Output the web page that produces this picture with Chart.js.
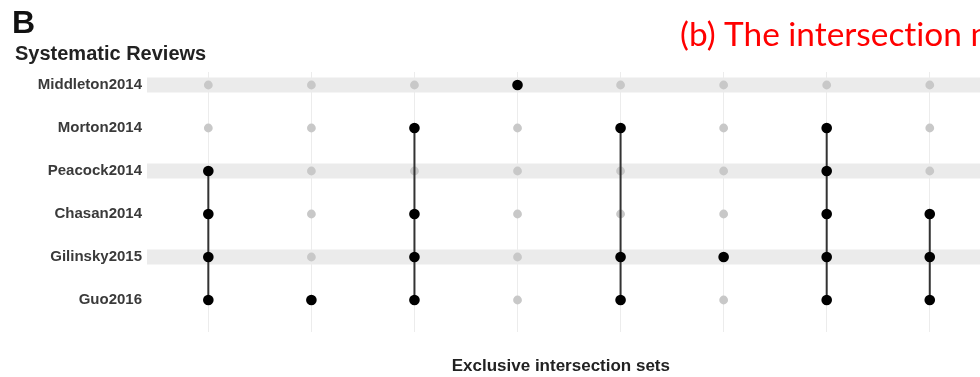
<!DOCTYPE html>
<html>
<head>
<meta charset="utf-8">
<script src="https://cdn.jsdelivr.net/npm/chart.js@4/dist/chart.umd.min.js"></script>
<style>
  html, body { margin: 0; padding: 0; background: #fff; }
  #wrap { width: 980px; height: 377px; position: relative; }
</style>
</head>
<body>
<div id="wrap"><canvas id="c" width="980" height="377"></canvas></div>
<script>
// Sets (rows of the matrix, top to bottom)
const setNames = ['Middleton2014', 'Morton2014', 'Peacock2014', 'Chasan2014', 'Gilinsky2015', 'Guo2016'];

// Exclusive intersections (columns, left to right): member sets of each
const intersectionSets = [
  ['Peacock2014', 'Chasan2014', 'Gilinsky2015', 'Guo2016'],
  ['Guo2016'],
  ['Morton2014', 'Chasan2014', 'Gilinsky2015', 'Guo2016'],
  ['Middleton2014'],
  ['Morton2014', 'Gilinsky2015', 'Guo2016'],
  ['Gilinsky2015'],
  ['Morton2014', 'Peacock2014', 'Chasan2014', 'Gilinsky2015', 'Guo2016'],
  ['Chasan2014', 'Gilinsky2015', 'Guo2016']
];

// Rows drawn with a shaded band behind them
const shadedSets = ['Middleton2014', 'Peacock2014', 'Gilinsky2015'];

const panelLetter = 'B';
const panelTitle = 'Systematic Reviews';
const xAxisTitle = 'Exclusive intersection sets';
const noteText = '(b) The intersection matrix';

// row value: top row gets the highest y value
const rowOf = name => setNames.length - setNames.indexOf(name);
const columnValues = intersectionSets.map((_, i) => i + 1);
const rowValues = setNames.map(rowOf);

// background (empty) dots for every cell
const emptyDots = [];
columnValues.forEach(c => rowValues.forEach(r => emptyDots.push({ x: c, y: r })));

// filled dots for memberships
const filledDots = [];
intersectionSets.forEach((members, i) => {
  members.forEach(m => filledDots.push({ x: i + 1, y: rowOf(m) }));
});

// connecting segments for intersections with more than one set
const connectorSets = [];
intersectionSets.forEach((members, i) => {
  if (members.length < 2) return;
  const rows = members.map(rowOf);
  connectorSets.push({
    type: 'scatter',
    showLine: true,
    data: [{ x: i + 1, y: Math.min(...rows) }, { x: i + 1, y: Math.max(...rows) }],
    borderColor: '#333333',
    borderWidth: 2,
    pointRadius: 0,
    order: 1
  });
});

const matrixDecor = {
  id: 'matrixDecor',
  beforeDatasetsDraw(chart) {
    const { ctx, chartArea, scales } = chart;
    ctx.save();
    ctx.fillStyle = '#ebebeb';
    shadedSets.forEach(name => {
      const y = scales.y.getPixelForValue(rowOf(name));
      ctx.fillRect(chartArea.left, y - 7.5, chart.width - chartArea.left, 15);
    });
    ctx.restore();
  },
  afterDraw(chart) {
    const { ctx } = chart;
    ctx.save();
    ctx.textAlign = 'left';
    ctx.textBaseline = 'alphabetic';
    ctx.fillStyle = '#111';
    ctx.font = 'bold 32px "Liberation Sans", Arial, sans-serif';
    ctx.fillText(panelLetter, 12, 33);
    ctx.fillStyle = '#222';
    ctx.font = 'bold 20px "Liberation Sans", Arial, sans-serif';
    ctx.fillText(panelTitle, 15, 60);

    // red annotation, sized so "(b) The intersection" spans ~282px
    ctx.textRendering = 'optimizeSpeed';
    ctx.font = '100px Lato, "Open Sans", sans-serif';
    const w = ctx.measureText('(b) The intersection').width;
    const size = 100 * 282 / w;
    ctx.font = size.toFixed(1) + 'px Lato, "Open Sans", sans-serif';
    ctx.fillStyle = '#ff0000';
    ctx.fillText(noteText, 680, 46);
    ctx.restore();
  }
};

new Chart(document.getElementById('c'), {
  type: 'scatter',
  data: {
    datasets: [
      {
        data: filledDots,
        backgroundColor: '#000',
        borderWidth: 0,
        pointRadius: 5.3,
        order: 0
      },
      ...connectorSets,
      {
        data: emptyDots,
        backgroundColor: '#c8c8c8',
        borderWidth: 0,
        pointRadius: 4.4,
        order: 2
      }
    ]
  },
  options: {
    responsive: false,
    animation: false,
    events: [],
    layout: { padding: { top: 72, left: 0, right: 0, bottom: 0 } },
    plugins: { legend: { display: false }, tooltip: { enabled: false } },
    scales: {
      x: {
        type: 'linear',
        min: 0.405,
        max: 8.436,
        afterBuildTicks: s => { s.ticks = columnValues.map(v => ({ value: v })); },
        afterFit: s => { s.height = 45; },
        ticks: { display: false },
        border: { display: false },
        grid: { color: '#ececec', lineWidth: 1, drawTicks: false },
        title: {
          display: true,
          text: xAxisTitle,
          color: '#222',
          font: { family: '"Liberation Sans", Arial, sans-serif', size: 17, weight: 'bold' },
          padding: { top: 0, bottom: 0 }
        }
      },
      y: {
        type: 'linear',
        min: 0.256,
        max: 6.302,
        afterBuildTicks: s => { s.ticks = rowValues.map(v => ({ value: v })); },
        afterFit: s => { s.width = 147; },
        border: { display: false },
        grid: { display: false, drawTicks: false },
        ticks: {
          padding: 5,
          color: '#3a3a3a',
          font: { family: '"Liberation Sans", Arial, sans-serif', size: 15, weight: 'bold' },
          callback: v => setNames[setNames.length - v]
        }
      }
    }
  },
  plugins: [matrixDecor]
});
</script>
</body>
</html>
